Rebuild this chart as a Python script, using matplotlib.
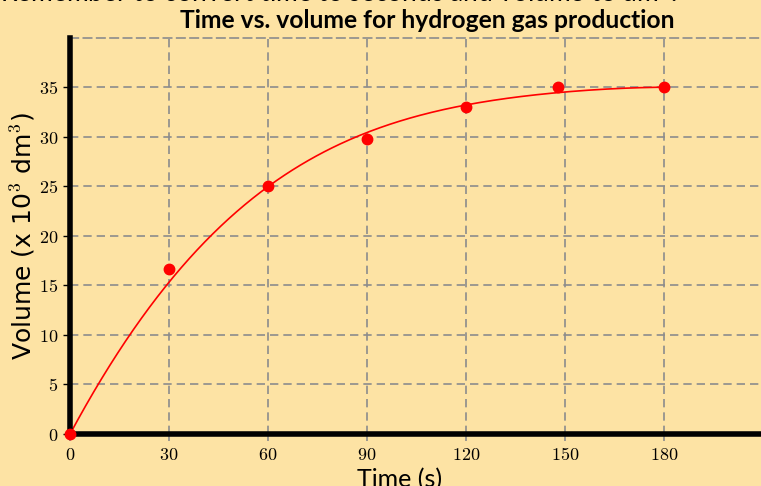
import matplotlib
matplotlib.use("Agg")
import matplotlib.pyplot as plt
from matplotlib.ticker import FuncFormatter
import numpy as np

time_s = [0, 30, 60, 90, 120, 148, 180]
volume = [0, 16.7, 25, 29.8, 33.0, 35.0, 35.0]

# trend curve
curve_t = [0, 8.6, 18, 30, 42.6, 60, 70, 86.4, 105, 120, 135, 150, 165, 180]
curve_v = [0, 5, 10, 15.3, 20, 25, 27.1, 30, 32.1, 33.2, 34.0, 34.5, 34.9, 35.0]

x_ticks = [0, 30, 60, 90, 120, 150, 180]
y_ticks = [0, 5, 10, 15, 20, 25, 30, 35]

BG = "#fde3a4"
GRID = "#8c8c8c"

plt.rcParams["mathtext.fontset"] = "cm"

fig = plt.figure(figsize=(7.61, 4.86), dpi=100, facecolor=BG)
ax = fig.add_axes([70 / 761, 52 / 486, 693 / 761, 396.2 / 486])
ax.set_facecolor(BG)

# smooth the sampled curve so it does not show corners
coef = np.polyfit(curve_t, curve_v, 5)
t_fine = np.linspace(curve_t[0], curve_t[-1], 300)
ax.plot(t_fine, np.polyval(coef, t_fine), color="red", lw=1.2, zorder=3)
ax.plot(time_s, volume, "o", color="red", ms=7.5, zorder=6, clip_on=False)

ax.set_xlim(0, 210)
ax.set_ylim(0, 40)
ax.set_xticks(x_ticks)
ax.set_yticks(y_ticks)
fmt = FuncFormatter(lambda v, _: f"${v:g}$")
ax.xaxis.set_major_formatter(fmt)
ax.yaxis.set_major_formatter(fmt)
ax.tick_params(axis="both", labelsize=13)
ax.tick_params(axis="x", colors=GRID, labelcolor="black", length=5, width=1.2)
ax.tick_params(axis="y", colors="black", length=5, width=1.0)

ax.grid(True, color=GRID, ls=(0, (5, 3)), lw=1.2)
ax.set_axisbelow(True)

for side in ("left", "bottom"):
    ax.spines[side].set_linewidth(4)
    ax.spines[side].set_color("black")
    ax.spines[side].set_zorder(5)
ax.spines["top"].set_color(GRID)
ax.spines["top"].set_linestyle((0, (5, 3)))
ax.spines["top"].set_linewidth(1.2)
ax.spines["right"].set_visible(False)

ax.set_xlabel("Time (s)", fontsize=18, family="Lato")
ax.xaxis.set_label_coords((400 - 70) / 693, -0.085)
ax.set_ylabel("Volume (x 10$^\\mathsf{3}$ dm$^\\mathsf{3}$)", fontsize=18, family="DejaVu Sans")
ax.yaxis.set_label_coords(-0.048, 0.5)

fig.text(427 / 761, 1 - 20 / 486, "Time vs. volume for hydrogen gas production",
         ha="center", va="center", fontsize=17.7, fontweight="bold", family="Lato")
fig.text(0, 1 + 6 / 486, "Remember to convert time to seconds and volume to dm$^\\mathsf{3}$.",
         ha="left", va="center", fontsize=19, family="Lato")

fig.savefig("out.png", dpi=100, facecolor=BG)
